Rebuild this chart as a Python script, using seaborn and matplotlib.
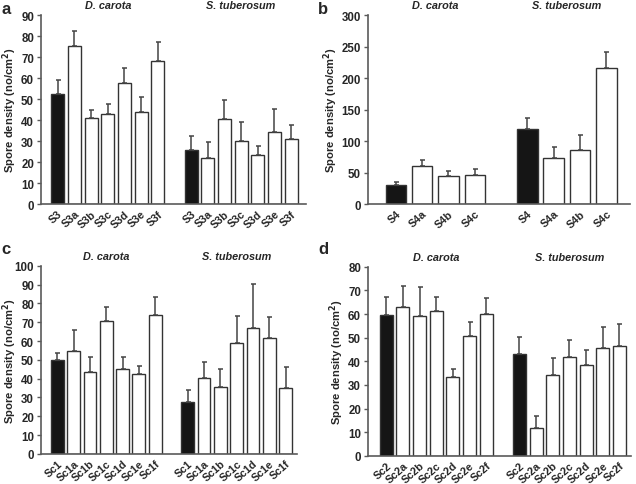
import matplotlib
matplotlib.use("Agg")
import matplotlib.pyplot as plt
import seaborn as sns
import numpy as np
import pandas as pd

sns.set_theme(style="white")
plt.rcParams['font.family'] = ['Liberation Sans', 'DejaVu Sans']

# ---------------- data ----------------
groups = ["D. carota", "S. tuberosum"]

labels_a = ["S3", "S3a", "S3b", "S3c", "S3d", "S3e", "S3f"]
dc_a = [52.4, 75.2, 40.8, 42.9, 57.6, 43.7, 68.3]
dc_a_se = [6.5, 7.3, 3.8, 4.7, 7.3, 7.3, 8.8]
st_a = [26.0, 22.1, 40.3, 30.0, 23.3, 34.3, 30.8]
st_a_se = [6.5, 7.7, 9.4, 9.2, 4.3, 10.8, 7.1]

labels_b = ["S4", "S4a", "S4b", "S4c"]
dc_b = [30.9, 60.1, 44.1, 46.8]
dc_b_se = [3.7, 10.1, 9.1, 8.5]
st_b = [119.7, 73.4, 85.6, 216.5]
st_b_se = [17.0, 16.5, 24.0, 25.5]

labels_c = ["Sc1", "Sc1a", "Sc1b", "Sc1c", "Sc1d", "Sc1e", "Sc1f"]
dc_c = [50.0, 54.9, 43.7, 70.4, 45.2, 42.6, 73.9]
dc_c_se = [3.9, 10.9, 7.9, 7.8, 6.4, 3.9, 9.6]
st_c = [27.8, 40.5, 35.7, 59.0, 66.9, 61.6, 35.0]
st_c_se = [6.0, 8.4, 9.5, 14.4, 23.2, 11.3, 11.1]

labels_d = ["Sc2", "Sc2a", "Sc2b", "Sc2c", "Sc2d", "Sc2e", "Sc2f"]
dc_d = [59.6, 63.1, 59.0, 61.1, 33.3, 50.9, 59.9]
dc_d_se = [7.6, 8.9, 12.3, 6.3, 3.6, 5.7, 6.8]
st_d = [43.0, 11.9, 34.0, 41.7, 38.6, 45.8, 46.6]
st_d_se = [7.4, 5.0, 7.6, 7.3, 6.2, 8.8, 9.2]

panels = [
    ("a", labels_a, dc_a, dc_a_se, st_a, st_a_se, 90, 10, [0.0645, 0.577, 0.4167, 0.390], (-1.0, 14.9), 19.0),
    ("b", labels_b, dc_b, dc_b_se, st_b, st_b_se, 300, 50, [0.5786, 0.577, 0.412, 0.390], (-1.06, 8.9), 340.5),
    ("c", labels_c, dc_c, dc_c_se, st_c, st_c_se, 100, 10, [0.0645, 0.062, 0.4025, 0.388], (-1.0, 14.7), 19.0),
    ("d", labels_d, dc_d, dc_d_se, st_d, st_d_se, 80, 10, [0.5786, 0.058, 0.4135, 0.390], (-1.1, 14.7), 346.0),
]

W, H = 636, 485
fig = plt.figure(figsize=(W / 100, H / 100), dpi=100)
spine_col = "#5a5a5a"
edge_col = "#333333"
err_col = "#444444"

for letter, labs, dc, dcse, st, stse, ymax, ystep, rect, xl, labx in panels:
    ax = fig.add_axes(rect)
    n = len(labs)
    pos = list(range(n)) + list(range(n + 1, 2 * n + 1))
    vals = list(dc) + list(st)
    ses = list(dcse) + list(stse)
    kind = (["ctrl"] + ["trt"] * (n - 1)) * 2
    df = pd.DataFrame({"pos": pos, "val": vals, "kind": kind})
    sns.barplot(data=df, x="pos", y="val", hue="kind", native_scale=True,
                dodge=False, width=0.78, palette={"ctrl": "#151515", "trt": "white"},
                edgecolor=edge_col, linewidth=1.0, legend=False, errorbar=None, ax=ax)
    ax.errorbar(pos, vals, yerr=[np.zeros(len(ses)), ses], fmt="none",
                ecolor=err_col, elinewidth=1.1, capsize=1.8, capthick=1.1, zorder=1)
    ax.set_xlim(*xl)
    ax.set_ylim(0, ymax)
    ax.set_yticks(np.arange(0, ymax + 0.1, ystep))
    ax.set_xticks(pos)
    ax.set_xticklabels(labs + labs, rotation=42, ha="right", rotation_mode="anchor",
                       fontsize=7.8, fontweight="bold")
    for t in ax.get_yticklabels():
        t.set_fontsize(8.3)
        t.set_fontweight("bold")
    ax.tick_params(axis="y", length=3, width=1, color=spine_col, pad=2, left=True)
    ax.tick_params(axis="x", length=0, pad=3, bottom=True)
    ax.set_xlabel("")
    ax.set_ylabel("Spore density (no/cm$^\\mathbf{2}$)", fontsize=8.1, fontweight="bold")
    cy = rect[1] + rect[3] / 2
    ax.yaxis.set_label_coords(labx / W, cy, transform=fig.transFigure)
    for s in ["top", "right"]:
        ax.spines[s].set_visible(False)
    for s in ["left", "bottom"]:
        ax.spines[s].set_color(spine_col)
        ax.spines[s].set_linewidth(1.2)
    # group titles
    ax.text((n - 1) / 2, 1.025, groups[0], transform=ax.get_xaxis_transform(),
            ha="center", va="bottom", fontsize=7.8, fontweight="bold", style="italic")
    ax.text(n + 1 + (n - 1) / 2, 1.025, groups[1], transform=ax.get_xaxis_transform(),
            ha="center", va="bottom", fontsize=7.8, fontweight="bold", style="italic")

fig.text(0.002, 0.995, "a", fontsize=12, fontweight="bold", va="top", ha="left")
fig.text(0.500, 0.995, "b", fontsize=12, fontweight="bold", va="top", ha="left")
fig.text(0.002, 0.502, "c", fontsize=12, fontweight="bold", va="top", ha="left")
fig.text(0.500, 0.502, "d", fontsize=12, fontweight="bold", va="top", ha="left")

fig.savefig("out.png", dpi=100)
